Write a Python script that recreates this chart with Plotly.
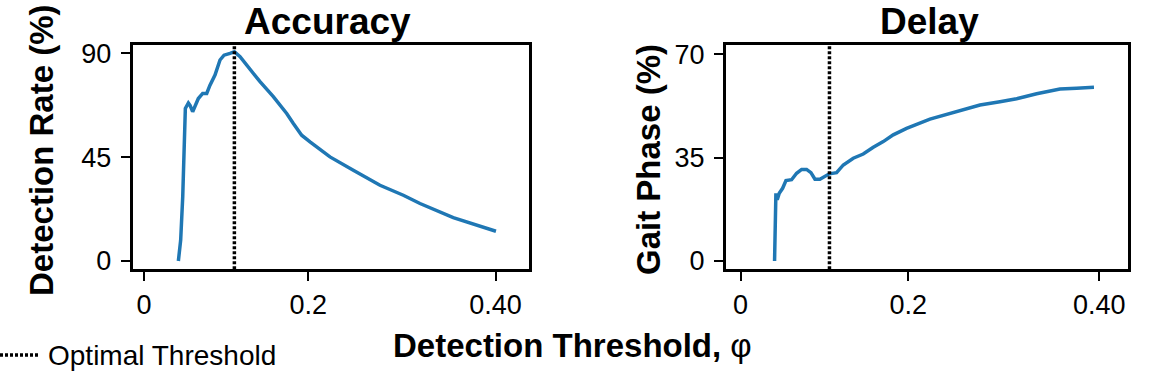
import plotly.graph_objects as go
from plotly.subplots import make_subplots

# ---- data ----
acc_threshold = [0.0418, 0.0446, 0.0471, 0.0486, 0.0503, 0.0540, 0.0560, 0.0592, 0.0621, 0.0661,
                 0.0714, 0.0763, 0.0803, 0.0864, 0.0925, 0.0974, 0.1047, 0.1100, 0.1169, 0.1250,
                 0.1412, 0.1574, 0.1737, 0.1818, 0.1919, 0.2021, 0.2264, 0.2548, 0.2873, 0.3157,
                 0.3360, 0.3765, 0.4050, 0.4285]
acc_rate = [0.0, 9.0, 27.8, 52.4, 66.1, 68.5, 67.5, 64.7, 67.5, 70.4,
            72.6, 72.6, 76.2, 80.6, 87.1, 89.2, 90.0, 90.7, 88.5, 84.9,
            77.7, 71.2, 63.9, 59.6, 54.5, 51.6, 45.1, 39.3, 32.8, 28.5,
            24.9, 18.8, 15.5, 12.9]

delay_threshold = [0.0405, 0.0413, 0.0421, 0.0437, 0.0461, 0.0501, 0.0541, 0.0608, 0.0668, 0.0728,
                   0.0787, 0.0839, 0.0887, 0.0946, 0.1058, 0.1145, 0.1225, 0.1344, 0.1463, 0.1583,
                   0.1702, 0.1821, 0.1980, 0.2259, 0.2498, 0.2697, 0.2856, 0.3094, 0.3293, 0.3532,
                   0.3810, 0.4009, 0.4216]
delay_phase = [0.0, 10.5, 22.9, 20.7, 22.9, 24.6, 27.2, 27.5, 29.7, 31.0,
               31.0, 29.9, 27.7, 27.7, 29.5, 29.9, 32.5, 34.8, 36.2, 38.5,
               40.4, 42.7, 44.9, 48.0, 49.8, 51.4, 52.8, 53.9, 54.9, 56.6,
               58.2, 58.5, 58.8]

optimal_threshold = [0.110, 0.106]   # Accuracy panel, Delay panel

x_tick_vals = [0, 0.2, 0.428]
x_tick_text = ["0", "0.2", "0.40"]
acc_y_ticks = [0, 45, 90]
delay_y_ticks = [0, 35, 70]

acc_y_range = [-3.6, 93.6]
delay_y_range = [-2.8, 73.1]
acc_x_range = [-0.0138, 0.4687]
delay_x_range = [-0.0175, 0.4618]

BLUE = "#1f77b4"
FONT = "Arial, Liberation Sans, sans-serif"
DASH = "3px,2px"

fig = make_subplots(rows=1, cols=2)

fig.add_trace(go.Scatter(x=acc_threshold, y=acc_rate, mode="lines",
                         line=dict(color=BLUE, width=3.5), showlegend=False), row=1, col=1)
fig.add_trace(go.Scatter(x=delay_threshold, y=delay_phase, mode="lines",
                         line=dict(color=BLUE, width=3.5), showlegend=False), row=1, col=2)

fig.add_trace(go.Scatter(x=[optimal_threshold[0]] * 2, y=acc_y_range, mode="lines",
                         line=dict(color="black", width=3.5, dash=DASH),
                         name="Optimal Threshold", showlegend=False), row=1, col=1)
fig.add_trace(go.Scatter(x=[optimal_threshold[1]] * 2, y=delay_y_range, mode="lines",
                         line=dict(color="black", width=3.5, dash=DASH),
                         name="Optimal Threshold", showlegend=False), row=1, col=2)

axis_common = dict(showline=True, linecolor="black", linewidth=3, mirror=True,
                   ticks="outside", ticklen=9, tickwidth=2, tickcolor="black",
                   showgrid=False, zeroline=False, automargin=False,
                   tickfont=dict(family=FONT, size=27, color="black"))

fig.update_xaxes(**axis_common, tickvals=x_tick_vals, ticktext=x_tick_text)
fig.update_yaxes(**axis_common, ticklabelstandoff=4)

fig.update_layout(
    width=1158, height=375, autosize=False,
    margin=dict(l=0, r=0, t=0, b=0, autoexpand=False),
    plot_bgcolor="white", paper_bgcolor="white",
    showlegend=False,
    xaxis=dict(domain=[0.1146, 0.4568], range=acc_x_range),
    xaxis2=dict(domain=[0.6269, 0.9738], range=delay_x_range),
    yaxis=dict(domain=[0.2819, 0.88], range=acc_y_range, tickvals=acc_y_ticks),
    yaxis2=dict(domain=[0.2819, 0.88], range=delay_y_range, tickvals=delay_y_ticks),
    font=dict(family=FONT, color="black"),
)

# legend drawn by hand (sample line + label) at the bottom-left corner
fig.add_shape(type="line", xref="paper", yref="paper",
              x0=0.0, x1=38 / 1158, y0=1 - 355 / 375, y1=1 - 355 / 375,
              line=dict(color="black", width=3.5, dash=DASH))

ann = [
    dict(text="Accuracy", x=0.2832, y=0.944, size=37, bold=True, angle=0, xa="center"),
    dict(text="Delay", x=0.8031, y=0.944, size=37, bold=True, angle=0, xa="center"),
    dict(text="Detection Rate (%)", x=0.0354, y=0.60, size=33, bold=True, angle=-90, xa="center"),
    dict(text="Gait Phase (%)", x=0.5596, y=0.5733, size=33, bold=True, angle=-90, xa="center"),
    dict(text="<b>Detection Threshold,</b> φ", x=0.494, y=0.08, size=33, bold=False, angle=0, xa="center"),
    dict(text="Optimal Threshold", x=46 / 1158, y=1 - 355 / 375, size=28, bold=False, angle=0, xa="left"),
]
for a in ann:
    fig.add_annotation(text=a["text"], x=a["x"], y=a["y"], xref="paper", yref="paper",
                       xanchor=a["xa"], yanchor="middle", showarrow=False,
                       textangle=a["angle"],
                       font=dict(family=FONT, size=a["size"], color="black",
                                 weight="bold" if a["bold"] else "normal"))

fig.write_html("out.html",
               config={"displayModeBar": False},
               post_script="document.body.style.margin='0';document.body.style.overflow='hidden';")
